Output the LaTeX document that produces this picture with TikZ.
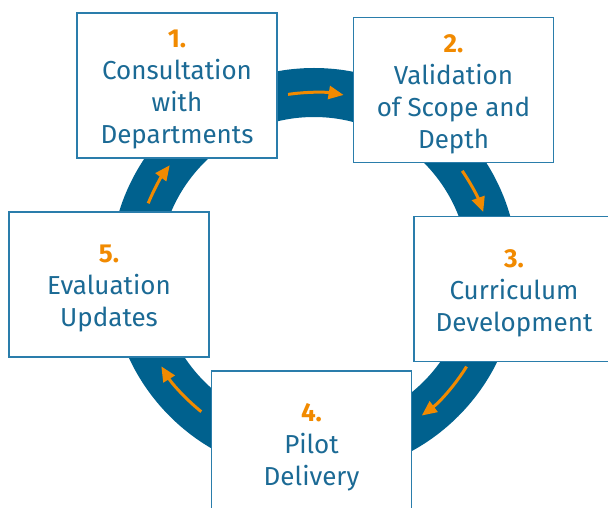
\documentclass[tikz,border=0pt]{standalone}
\usepackage{fontspec}
\setmainfont{Fira Sans}
\usetikzlibrary{arrows.meta,calc}
\definecolor{ringblue}{HTML}{00618E}
\definecolor{txtblue}{HTML}{1B6A95}
\definecolor{boxblue}{HTML}{2A7DAB}
\definecolor{accent}{HTML}{F18A00}
\tikzset{
  stagebox/.style={draw=boxblue, line width=1.4pt, fill=white,
    minimum width=200pt, minimum height=145pt, inner sep=0pt},
  stagetext/.style={inner sep=0pt, yshift=-4pt,
    align=center, text=txtblue, font=\fontsize{26}{32}\selectfont},
  ring/.style={draw=ringblue, line width=49pt},
  flow/.style={draw=accent, line width=3pt,
    -{Triangle[length=15pt,width=13pt]}},
}
\newcommand{\stagenum}[1]{{\bfseries\color{accent}#1}}
\begin{document}
\begin{tikzpicture}[x=1pt,y=-1pt]
\useasboundingbox (0,0) rectangle (608,508);
\coordinate (c) at (314,272);
\draw[ring] (c) circle[radius=179.5];
% flow arrows along the ring (angles negated for flipped y)
\draw[flow] ($(c)+(-98.3:179.5)$) arc[start angle=-98.3, end angle=-80.5, radius=179.5];
\draw[flow] ($(c)+(-34.3:179.5)$) arc[start angle=-34.3, end angle=-19.5, radius=179.5];
\draw[flow] ($(c)+(31.8:179.5)$) arc[start angle=31.8, end angle=53.1, radius=179.5];
\draw[flow] ($(c)+(128.9:179.5)$) arc[start angle=128.9, end angle=148.3, radius=179.5];
\draw[flow] ($(c)+(-157.5:179.5)$) arc[start angle=-157.5, end angle=-143.5, radius=179.5];
% stages
\node[stagebox, label={[stagetext]center:{\stagenum{1.}\\Consultation\\with\\Departments}}] (b1) at (177,85.5) {};
\node[stagebox, label={[stagetext]center:{\stagenum{2.}\\Validation\\of Scope and\\Depth}}] (b2) at (453.5,90) {};
\node[stagebox, label={[stagetext]center:{\stagenum{3.}\\Curriculum\\Development}}] (b3) at (514,289) {};
\node[stagebox, label={[stagetext]center:{\stagenum{4.}\\Pilot\\Delivery}}] (b4) at (311.5,443.5) {};
\node[stagebox, label={[stagetext]center:{\stagenum{5.}\\Evaluation\\Updates}}] (b5) at (109,284.5) {};
\end{tikzpicture}
\end{document}
